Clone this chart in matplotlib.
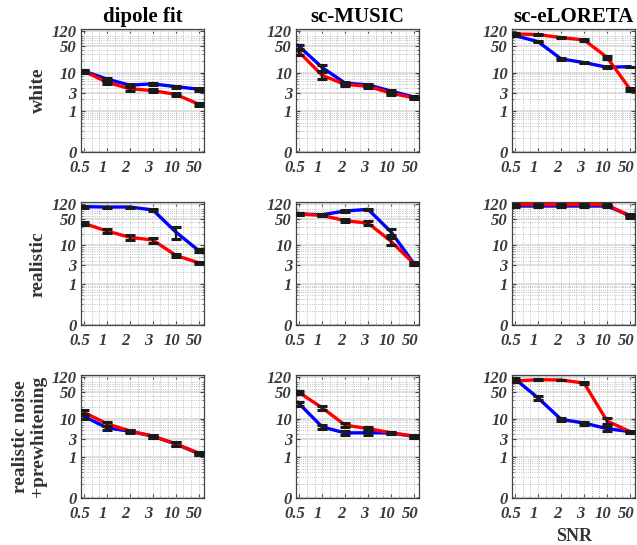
import matplotlib
matplotlib.use("Agg")
import matplotlib.pyplot as plt
from matplotlib import font_manager as fm
from matplotlib.ticker import FixedLocator, LogLocator, MultipleLocator, NullFormatter
from matplotlib.transforms import ScaledTranslation

snr_labels = ["0.5", "1", "2", "3", "10", "50"]
methods = ["dipole fit", "sc-MUSIC", "sc-eLORETA"]
noise_types = ["white", "realistic", "realistic noise\n+prewhitening"]
y_ticks = [0.085, 1, 3, 10, 50, 120]
y_tick_labels = ["0", "1", "3", "10", "50", "120"]

# white noise
dipole_white_blue = [11.0, 6.8, 4.7, 5.1, 4.3, 3.7]
dipole_white_blue_err = [1.0, 0.6, 0.4, 0.4, 0.3, 0.35]
dipole_white_red = [11.0, 5.6, 3.8, 3.4, 2.7, 1.5]
dipole_white_red_err = [1.0, 0.6, 0.4, 0.3, 0.2, 0.15]
music_white_blue = [48, 13.6, 5.3, 4.8, 3.3, 2.3]
music_white_blue_err = [6, 2.5, 0.5, 0.4, 0.3, 0.15]
music_white_red = [34, 8.5, 4.9, 4.4, 2.9, 2.2]
music_white_red_err = [6, 1.8, 0.4, 0.4, 0.3, 0.15]
eloreta_white_blue = [92, 64, 22.7, 18.3, 13.8, 14.3]
eloreta_white_blue_err = [4, 3, 1.2, 1.0, 0.7, 0.0]
eloreta_white_red = [102, 98, 82, 71, 25, 3.7]
eloreta_white_red_err = [4, 4, 3, 3, 2, 0.3]

# realistic noise
dipole_real_blue = [102, 100, 100, 84, 22.3, 7.3]
dipole_real_blue_err = [5, 3, 3, 4, 8, 0.7]
dipole_real_red = [37.5, 23.7, 16.2, 13.8, 5.5, 3.5]
dipole_real_red_err = [3, 2.5, 2.5, 2, 0.6, 0.3]
music_real_blue = [65.7, 63, 78.7, 87, 22.3, 3.3]
music_real_blue_err = [4, 4, 4, 3, 4, 0.3]
music_real_red = [65.7, 60.6, 44, 38, 12.7, 3.3]
music_real_red_err = [4, 4, 4, 4, 2.5, 0.3]
eloreta_real_blue = [106, 106, 106, 106, 106, 60]
eloreta_real_blue_err = [3, 3, 3, 3, 3, 5]
eloreta_real_red = [115, 115, 115, 115, 115, 57]
eloreta_real_red_err = [3, 3, 3, 3, 3, 5]

# realistic noise + prewhitening
dipole_prew_blue = [11.5, 5.8, 4.7, 3.5, 2.2, 1.22]
dipole_prew_blue_err = [1.5, 0.8, 0.4, 0.3, 0.2, 0.12]
dipole_prew_red = [14.6, 7.4, 4.8, 3.5, 2.2, 1.27]
dipole_prew_red_err = [1.8, 0.8, 0.4, 0.3, 0.2, 0.12]
music_prew_blue = [24.5, 6.1, 4.25, 4.3, 4.25, 3.45]
music_prew_blue_err = [2.5, 0.7, 0.4, 0.6, 0.3, 0.25]
music_prew_red = [48, 19.2, 6.8, 5.5, 4.3, 3.5]
music_prew_red_err = [4, 2, 0.7, 0.5, 0.3, 0.3]
eloreta_prew_blue = [108, 34.6, 9.6, 7.7, 5.5, 4.6]
eloreta_prew_blue_err = [8, 4, 1, 0.7, 0.8, 0.3]
eloreta_prew_red = [96, 104, 102, 85, 8.7, 4.6]
eloreta_prew_red_err = [5, 3, 3, 3, 1.5, 0.3]

panels = [
    [(dipole_white_blue, dipole_white_blue_err, dipole_white_red, dipole_white_red_err),
     (music_white_blue, music_white_blue_err, music_white_red, music_white_red_err),
     (eloreta_white_blue, eloreta_white_blue_err, eloreta_white_red, eloreta_white_red_err)],
    [(dipole_real_blue, dipole_real_blue_err, dipole_real_red, dipole_real_red_err),
     (music_real_blue, music_real_blue_err, music_real_red, music_real_red_err),
     (eloreta_real_blue, eloreta_real_blue_err, eloreta_real_red, eloreta_real_red_err)],
    [(dipole_prew_blue, dipole_prew_blue_err, dipole_prew_red, dipole_prew_red_err),
     (music_prew_blue, music_prew_blue_err, music_prew_red, music_prew_red_err),
     (eloreta_prew_blue, eloreta_prew_blue_err, eloreta_prew_red, eloreta_prew_red_err)],
]

plt.rcParams["font.family"] = ["Liberation Serif", "DejaVu Serif"]
tick_color = "#3a3a3a"
# bold italic Times-like font for the tick labels, picked by file
bi_path = fm.findfont(fm.FontProperties(family="Liberation Serif", style="italic", weight="bold"))
tick_fp = fm.FontProperties(fname=bi_path, size=12)

fig = plt.figure(figsize=(6.37, 5.45), dpi=100)
lefts = [0.127, 0.465, 0.804]
bottoms = [0.721, 0.404, 0.086]
w, h = 0.193, 0.226
x = list(range(1, len(snr_labels) + 1))
shift_left = ScaledTranslation(-3 / 72, 0, fig.dpi_scale_trans)

for r in range(3):
    for c in range(3):
        ax = fig.add_axes([lefts[c], bottoms[r], w, h])
        blue, blue_err, red, red_err = panels[r][c]
        ax.plot(x, blue, color="#0000ff", lw=2.4, zorder=3)
        ax.plot(x, red, color="#ff0000", lw=2.4, zorder=4)
        for vals, err in ((blue, blue_err), (red, red_err)):
            ax.errorbar(x, vals, yerr=err, fmt="none", ecolor="#1a1a1a",
                        elinewidth=1.6, capsize=3.5, capthick=2.2, zorder=5)
        ax.set_yscale("log")
        ax.set_ylim(0.085, 138)
        ax.set_xlim(0.87, 6.22)
        ax.yaxis.set_major_locator(FixedLocator(y_ticks))
        ax.set_yticklabels(y_tick_labels, fontproperties=tick_fp)
        ax.yaxis.set_minor_locator(LogLocator(base=10, subs=range(2, 10)))
        ax.yaxis.set_minor_formatter(NullFormatter())
        ax.set_xticks(x)
        ax.set_xticklabels(snr_labels, fontproperties=tick_fp)
        ax.xaxis.set_minor_locator(MultipleLocator(1 / 3))
        ax.grid(True, axis="y", which="major", color="#d8d8d8", lw=1.2, ls="-")
        ax.grid(True, axis="y", which="minor", color="#b0b0b0", lw=0.6, ls=":")
        ax.grid(True, axis="x", which="both", color="#b0b0b0", lw=0.6, ls=":")
        ax.set_axisbelow(True)
        ax.tick_params(which="both", direction="in", top=True, right=True,
                       colors="#444444", labelcolor=tick_color)
        ax.tick_params(which="major", length=3, width=0.8)
        ax.tick_params(which="minor", length=1.5, width=0.5)
        ax.tick_params(axis="x", pad=6)
        ax.tick_params(axis="y", pad=3)
        for lab in ax.get_xticklabels():
            lab.set_transform(lab.get_transform() + shift_left)
        for sp in ax.spines.values():
            sp.set_color("#444444")
            sp.set_linewidth(0.9)
        if r == 0:
            ax.set_title(methods[c], fontsize=15, fontweight="bold", pad=5)
        if r == 2 and c == 2:
            ax.set_xlabel("SNR", fontsize=13, fontweight="bold", color="#333333", labelpad=4)

row_centers = [0.834, 0.516, 0.199]
for r, name in enumerate(noise_types):
    xpos = 0.06 if "\n" not in name else 0.046
    fig.text(xpos, row_centers[r], name, rotation=90, ha="center", va="center",
             fontsize=14, fontweight="bold", color="#333333", multialignment="center",
             linespacing=1.1)

fig.savefig("out.png", dpi=100)
